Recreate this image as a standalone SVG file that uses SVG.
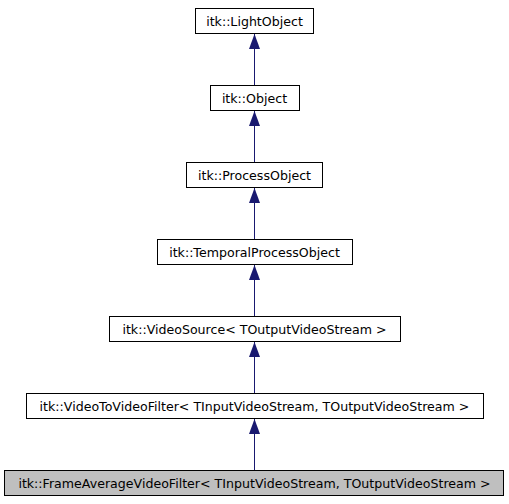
<svg xmlns="http://www.w3.org/2000/svg" width="509" height="504" viewBox="0 0 509 504">
<style>
.n rect{fill:#ffffff;stroke:#000000;stroke-width:1}
.n.cur rect{fill:#bfbfbf}
.n text{font-family:"DejaVu Sans",sans-serif;font-size:12.6px;text-anchor:middle;fill:#000000}
.e line{stroke:#191970;stroke-width:1}
</style>
<defs>
<marker id="ah" markerWidth="11" markerHeight="15" refX="5.5" refY="0" orient="0" markerUnits="userSpaceOnUse" viewBox="0 0 11 15">
<polygon points="5.5,0 0,15 11,15" fill="#191970"/>
</marker>
</defs>
<rect width="509" height="504" fill="#ffffff"/>
<g id="connectors" class="e">
<line x1="254.5" y1="470" x2="254.5" y2="419" marker-end="url(#ah)"/>
<line x1="254.5" y1="393" x2="254.5" y2="342" marker-end="url(#ah)"/>
<line x1="254.5" y1="316" x2="254.5" y2="265" marker-end="url(#ah)"/>
<line x1="254.5" y1="239" x2="254.5" y2="188" marker-end="url(#ah)"/>
<line x1="254.5" y1="162" x2="254.5" y2="111" marker-end="url(#ah)"/>
<line x1="254.5" y1="85" x2="254.5" y2="34" marker-end="url(#ah)"/>
</g>
<g id="lightobject" class="n"><rect x="195.5" y="8.5" width="118" height="25"/><text x="254.5" y="25.5">itk::LightObject</text></g>
<g id="object" class="n"><rect x="210.5" y="85.5" width="89" height="25"/><text x="254.5" y="102.5">itk::Object</text></g>
<g id="processobject" class="n"><rect x="186.5" y="162.5" width="136" height="25"/><text x="254.5" y="179.5">itk::ProcessObject</text></g>
<g id="temporalprocessobject" class="n"><rect x="157.5" y="239.5" width="195" height="25"/><text x="254.5" y="256.5">itk::TemporalProcessObject</text></g>
<g id="videosource" class="n"><rect x="109.5" y="316.5" width="291" height="25"/><text x="254.5" y="333.5">itk::VideoSource&lt; TOutputVideoStream &gt;</text></g>
<g id="videotovideofilter" class="n"><rect x="26.5" y="393.5" width="457" height="25"/><text x="254.5" y="410.5">itk::VideoToVideoFilter&lt; TInputVideoStream, TOutputVideoStream &gt;</text></g>
<g id="frameaveragevideofilter" class="n cur"><rect x="4.5" y="470.5" width="499" height="25"/><text x="254.5" y="487.5">itk::FrameAverageVideoFilter&lt; TInputVideoStream, TOutputVideoStream &gt;</text></g>
</svg>
